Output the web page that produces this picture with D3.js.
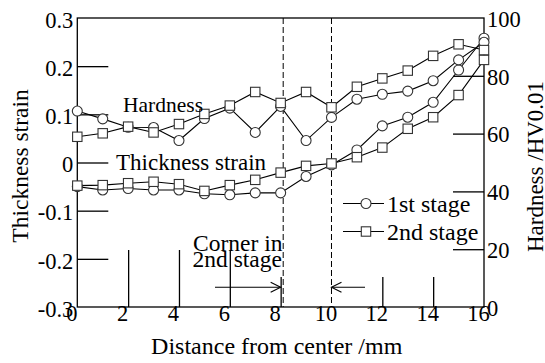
<!DOCTYPE html>
<html>
<head>
<meta charset="utf-8">
<script src="https://d3js.org/d3.v7.min.js"></script>
<style>
  body { margin: 0; background: #fff; }
  svg text { font-family: "Liberation Serif", "Times New Roman", serif; fill: #000; }
</style>
</head>
<body>
<div id="chart"></div>
<script>
// data
var distance = [0, 1, 2, 3, 4, 5, 6, 7, 8, 9, 10, 11, 12, 13, 14, 15, 16];
var hard1 = [67.8, 65.1, 62.2, 62.1, 57.6, 65.2, 68.8, 60.4, 69.4, 57.6, 65.6, 71.9, 73.6, 74.7, 78.3, 85.5, 91.6];
var hard2 = [58.9, 60.1, 62.4, 60.4, 63.3, 66.8, 69.7, 74.4, 70.6, 74.4, 69.1, 76.2, 79.1, 81.8, 86.9, 90.9, 88.9];
var thick1 = [-0.05, -0.057, -0.054, -0.057, -0.057, -0.065, -0.067, -0.063, -0.063, -0.029, -0.005, 0.026, 0.076, 0.094, 0.125, 0.192, 0.258];
var thick2 = [-0.048, -0.047, -0.043, -0.040, -0.045, -0.059, -0.047, -0.036, -0.021, -0.007, -0.002, 0.011, 0.031, 0.070, 0.094, 0.140, 0.213];

var xTickLabels = [0, 2, 4, 6, 8, 10, 12, 14, 16];
var leftTickLabels = [0.3, 0.2, 0.1, 0, -0.1, -0.2, -0.3];
var rightTickLabels = [0, 20, 40, 60, 80, 100];
var cornerLines = [8.1, 10];

var W = 545, H = 363;
var L = 77.3, R = 484, T = 18, B = 307;

var svg = d3.select("#chart").append("svg")
    .attr("width", W).attr("height", H);

var x = d3.scaleLinear().domain([0, 16]).range([L, R]);
var yL = d3.scaleLinear().domain([-0.3, 0.3]).range([B, T]);
var yR = d3.scaleLinear().domain([0, 100]).range([B, T]);

// inward ticks, different lengths like the original
function ticks(g) {
    g.select(".domain").remove();
    g.selectAll("line").attr("stroke", "#000").attr("stroke-width", 1.3);
}
svg.append("g").attr("transform", "translate(0," + B + ")")
    .call(d3.axisBottom(x).tickValues([2, 4, 6]).tickSizeInner(-57).tickSizeOuter(0).tickFormat(""))
    .call(ticks);
svg.append("g").attr("transform", "translate(0," + B + ")")
    .call(d3.axisBottom(x).tickValues([8, 12, 14]).tickSizeInner(-30).tickSizeOuter(0).tickFormat(""))
    .call(ticks);
svg.append("g").attr("transform", "translate(" + L + ",0)")
    .call(d3.axisLeft(yL).tickValues([0.2, 0.1, 0, -0.1, -0.2]).tickSizeInner(-31).tickSizeOuter(0).tickFormat(""))
    .call(ticks);
svg.append("g").attr("transform", "translate(" + R + ",0)")
    .call(d3.axisRight(yR).tickValues([20, 40, 60, 80]).tickSizeInner(-31).tickSizeOuter(0).tickFormat(""))
    .call(ticks);

// tick labels
function labels(g) {
    g.select(".domain").remove();
    g.selectAll("line").remove();
    g.selectAll("text").style("font-size", "22.5px").attr("fill", "#000")
        .style("font-family", "'Liberation Serif', serif");
}
svg.append("g").attr("transform", "translate(-6," + B + ")")
    .call(d3.axisBottom(x).tickValues(xTickLabels).tickSize(0).tickPadding(0).tickFormat(d3.format("d")))
    .call(labels)
    .selectAll("text").attr("dy", "0").attr("y", 14);
svg.append("g").attr("transform", "translate(" + (L - 4) + ",2)")
    .call(d3.axisLeft(yL).tickValues(leftTickLabels).tickSize(0).tickPadding(0)
        .tickFormat(function(d) { return d === 0 ? "0" : d.toFixed(1); }))
    .call(labels);
svg.append("g").attr("transform", "translate(" + (R + 3) + ",1)")
    .call(d3.axisRight(yR).tickValues(rightTickLabels).tickSize(0).tickPadding(0))
    .call(labels);

// frame
svg.append("rect")
    .attr("x", L).attr("y", T).attr("width", R - L).attr("height", B - T)
    .attr("fill", "none").attr("stroke", "#000").attr("stroke-width", 1.3);

// dashed corner lines
svg.selectAll(".corner").data(cornerLines).enter().append("line")
    .attr("x1", function(d) { return x(d); }).attr("x2", function(d) { return x(d); })
    .attr("y1", T).attr("y2", B)
    .attr("stroke", "#000").attr("stroke-width", 1).attr("stroke-dasharray", "6,3");

// series
var series = [
    { vals: thick1, scale: yL, mark: "circle" },
    { vals: thick2, scale: yL, mark: "square" },
    { vals: hard1, scale: yR, mark: "circle" },
    { vals: hard2, scale: yR, mark: "square" }
];

series.forEach(function(s) {
    var pts = distance.map(function(d, i) { return [x(d), s.scale(s.vals[i])]; });
    svg.append("path")
        .attr("d", d3.line()(pts))
        .attr("fill", "none").attr("stroke", "#000").attr("stroke-width", 1.1);
});
series.forEach(function(s) {
    var pts = distance.map(function(d, i) { return [x(d), s.scale(s.vals[i])]; });
    if (s.mark === "circle") {
        svg.selectAll(null).data(pts).enter().append("circle")
            .attr("cx", function(p) { return p[0]; }).attr("cy", function(p) { return p[1]; })
            .attr("r", 5).attr("fill", "#fff").attr("stroke", "#333").attr("stroke-width", 1.1);
    } else {
        svg.selectAll(null).data(pts).enter().append("rect")
            .attr("x", function(p) { return p[0] - 4.7; }).attr("y", function(p) { return p[1] - 4.7; })
            .attr("width", 9.4).attr("height", 9.4)
            .attr("fill", "#fff").attr("stroke", "#333").attr("stroke-width", 1.1);
    }
});

// annotations
svg.append("text").attr("x", 123).attr("y", 111.5).style("font-size", "21.5px").text("Hardness");
svg.append("text").attr("x", 116).attr("y", 170).style("font-size", "23px").text("Thickness strain");
svg.append("text").attr("x", 193).attr("y", 250.5).style("font-size", "23.5px").text("Corner in");
svg.append("text").attr("x", 192.5).attr("y", 266.5).style("font-size", "23.5px").text("2nd stage");

// arrows pointing at corner region
var ay = 287.3;
svg.append("line").attr("x1", 215).attr("x2", x(8)).attr("y1", ay).attr("y2", ay)
    .attr("stroke", "#000").attr("stroke-width", 1.1);
svg.append("path").attr("d", "M" + (x(8) - 10) + "," + (ay - 5) + "L" + x(8) + "," + ay + "L" + (x(8) - 10) + "," + (ay + 5))
    .attr("fill", "none").attr("stroke", "#000").attr("stroke-width", 1.1);
svg.append("line").attr("x1", x(10)).attr("x2", 365).attr("y1", ay).attr("y2", ay)
    .attr("stroke", "#000").attr("stroke-width", 1.1);
svg.append("path").attr("d", "M" + (x(10) + 10) + "," + (ay - 5) + "L" + x(10) + "," + ay + "L" + (x(10) + 10) + "," + (ay + 5))
    .attr("fill", "none").attr("stroke", "#000").attr("stroke-width", 1.1);

// legend
var legend = [
    { label: "1st stage", mark: "circle", y: 203.5 },
    { label: "2nd stage", mark: "square", y: 231.5 }
];
legend.forEach(function(l) {
    svg.append("line").attr("x1", 343).attr("x2", 384).attr("y1", l.y).attr("y2", l.y)
        .attr("stroke", "#000").attr("stroke-width", 1.1);
    if (l.mark === "circle") {
        svg.append("circle").attr("cx", 366).attr("cy", l.y).attr("r", 5)
            .attr("fill", "#fff").attr("stroke", "#333").attr("stroke-width", 1.1);
    } else {
        svg.append("rect").attr("x", 366 - 4.7).attr("y", l.y - 4.7).attr("width", 9.4).attr("height", 9.4)
            .attr("fill", "#fff").attr("stroke", "#333").attr("stroke-width", 1.1);
    }
    svg.append("text").attr("x", 387).attr("y", l.y + 8).style("font-size", "24px").text(l.label);
});

// axis titles
svg.append("text").attr("x", 276.7).attr("y", 354)
    .attr("text-anchor", "middle").style("font-size", "24px").text("Distance from center /mm");
svg.append("text").attr("transform", "translate(28,166) rotate(-90)")
    .attr("text-anchor", "middle").style("font-size", "23.5px").text("Thickness strain");
svg.append("text").attr("transform", "translate(543,166.5) rotate(-90)")
    .attr("text-anchor", "middle").style("font-size", "23px").text("Hardness /HV0.01");
</script>
</body>
</html>
